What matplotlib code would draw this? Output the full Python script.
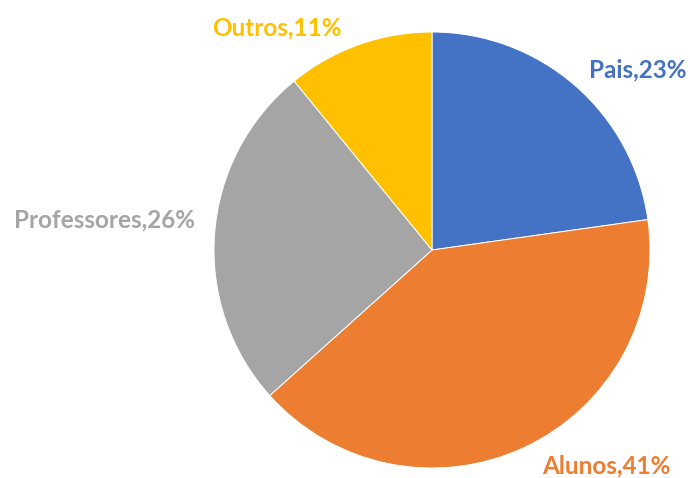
import matplotlib.pyplot as plt

# porcentagens por grupo
grupos = ["Pais", "Alunos", "Professores", "Outros"]
percentuais = [23, 41, 26, 11]
cores = ["#4472C4", "#ED7D31", "#A5A5A5", "#FFC000"]

# posicao dos rotulos (em raios do grafico, a partir do centro)
pos_rotulos = [(0.945, 0.826), (0.80, -0.99), (-1.50, 0.14), (-0.71, 1.02)]

fig = plt.figure(figsize=(6.9, 4.78), dpi=100)
ax = fig.add_axes([0, 0, 1, 1])

ax.pie(percentuais, colors=cores, startangle=90, counterclock=False,
       wedgeprops=dict(edgecolor="white", linewidth=0.7))

for nome, pct, cor, (x, y) in zip(grupos, percentuais, cores, pos_rotulos):
    ax.text(x, y, f"{nome},{pct}%", color=cor, fontsize=17.5, fontweight="bold",
            family=["Lato", "DejaVu Sans"], ha="center", va="center")

ax.set_xlim(-432 / 218, 258 / 218)
ax.set_ylim(-228 / 218, 250 / 218)
ax.axis("off")

fig.savefig("out.png", dpi=100)
